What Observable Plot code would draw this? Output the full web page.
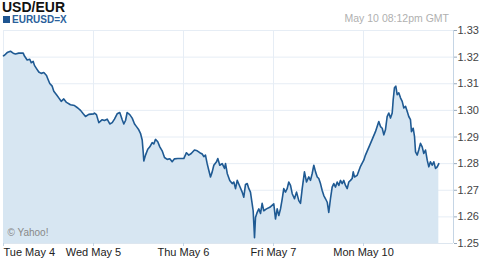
<!DOCTYPE html>
<html><head><meta charset="utf-8">
<script src="https://cdn.jsdelivr.net/npm/d3@7"></script>
<script src="https://cdn.jsdelivr.net/npm/@observablehq/plot@0.6"></script>
<style>
body{margin:0;background:#fff;font-family:Arial,"Liberation Sans",sans-serif;}
#wrap{width:479px;height:270px;position:relative;overflow:hidden}
#head{position:relative;height:24px}
.title{position:absolute;left:2px;top:0px;font-weight:bold;font-size:14px;line-height:14px;color:#111}
.legend{position:absolute;left:3px;top:15px;font-weight:bold;font-size:10px;color:#2a5f9b;line-height:9px}
.sw{display:inline-block;width:7px;height:7px;background:#1f5591;margin-right:2px}
.stamp{position:absolute;right:30px;top:13px;font-size:10.5px;line-height:10px;color:#b0b0b0}
</style></head><body>
<div id="wrap">
<div id="head">
<div class="title">USD/EUR</div>
<div class="legend"><span class="sw"></span>EURUSD=X</div>
<div class="stamp">May 10 08:12pm GMT</div>
</div>
<div id="chart"></div>
</div>
<script>
// trading-day offset from Tue May 4 (weekend collapsed)
const t = [0,0.011,0.041,0.078,0.108,0.133,0.170,0.219,0.233,0.263,0.292,0.308,0.330,0.344,0.367,0.392,0.419,0.448,0.478,0.492,0.514,0.541,0.559,0.589,0.614,0.641,0.670,0.700,0.744,0.789,0.826,0.856,0.886,0.911,0.948,
1.003,1.011,1.033,1.059,1.097,1.122,1.152,1.181,1.208,1.233,1.263,1.292,1.319,1.337,1.356,1.374,1.403,1.430,1.456,1.478,1.503,1.522,1.541,1.552,1.559,1.578,1.603,1.626,1.652,1.670,1.689,1.714,1.737,1.763,1.789,1.819,1.848,1.874,1.900,1.937,
2.003,2.033,2.059,2.086,2.122,2.152,2.181,2.208,2.226,2.244,2.263,2.281,2.300,2.319,2.337,2.367,2.381,2.403,2.430,2.456,2.467,2.486,2.514,2.541,2.559,2.578,2.597,2.626,2.652,2.670,2.689,2.708,2.726,2.744,2.763,2.774,2.789,2.800,2.819,2.837,2.856,2.874,2.892,2.922,2.959,
3.003,3.022,3.041,3.059,3.078,3.097,3.114,3.133,3.152,3.170,3.189,3.208,3.233,3.256,3.281,3.300,3.319,3.344,3.367,3.392,3.411,3.430,3.448,3.467,3.486,3.503,3.522,3.541,3.559,3.578,3.597,3.614,3.633,3.652,3.670,3.689,3.708,3.726,3.744,3.763,3.781,3.800,3.819,3.837,3.856,3.874,3.886,3.900,3.930,3.967,
4.003,4.022,4.078,4.133,4.170,4.189,4.208,4.226,4.244,4.263,4.281,4.300,4.319,4.330,4.344,4.359,4.374,4.392,4.411,4.430,4.448,4.467,4.486,4.503,4.522,4.533,4.552,4.567,4.578,4.597,4.614,4.633,4.652,4.670,4.689,4.708,4.726,4.744,4.763,4.781,4.800,4.819,4.837];
const rate = [1.3205,1.3207,1.3217,1.3222,1.3215,1.3212,1.3215,1.3215,1.3204,1.3189,1.3192,1.3179,1.3184,1.3169,1.3157,1.3144,1.3139,1.3142,1.3131,1.3119,1.3101,1.3091,1.3072,1.3059,1.3047,1.3034,1.3043,1.3030,1.3021,1.3018,1.3009,1.3000,1.2987,1.2977,1.2985,
1.2987,1.2990,1.2984,1.2954,1.2965,1.2962,1.2967,1.2949,1.2954,1.2967,1.2987,1.2992,1.2965,1.2949,1.2962,1.2992,1.2984,1.2971,1.2949,1.2939,1.2927,1.2914,1.2889,1.2844,1.2810,1.2832,1.2854,1.2863,1.2879,1.2874,1.2891,1.2882,1.2863,1.2848,1.2823,1.2816,1.2818,1.2807,1.2818,1.2819,
1.2819,1.2841,1.2832,1.2838,1.2851,1.2848,1.2841,1.2836,1.2826,1.2832,1.2800,1.2775,1.2750,1.2769,1.2794,1.2807,1.2819,1.2794,1.2800,1.2782,1.2800,1.2763,1.2737,1.2725,1.2731,1.2706,1.2737,1.2714,1.2693,1.2674,1.2722,1.2725,1.2706,1.2693,1.2649,1.2623,1.2522,1.2598,1.2617,1.2630,1.2613,1.2651,1.2623,1.2630,1.2636,
1.2649,1.2592,1.2630,1.2605,1.2630,1.2668,1.2706,1.2693,1.2706,1.2731,1.2718,1.2687,1.2668,1.2693,1.2661,1.2651,1.2706,1.2769,1.2731,1.2750,1.2737,1.2763,1.2794,1.2769,1.2750,1.2744,1.2725,1.2699,1.2680,1.2668,1.2655,1.2617,1.2668,1.2712,1.2725,1.2712,1.2731,1.2718,1.2737,1.2725,1.2737,1.2718,1.2706,1.2731,1.2737,1.2744,1.2769,1.2750,1.2756,1.2790,
1.2813,1.2832,1.2876,1.2920,1.2958,1.2939,1.2933,1.2908,1.2927,1.2977,1.2990,1.2971,1.2990,1.3040,1.3085,1.3091,1.3059,1.3066,1.3047,1.3034,1.3009,1.3015,1.2996,1.2977,1.2965,1.2920,1.2933,1.2901,1.2844,1.2832,1.2851,1.2876,1.2863,1.2838,1.2851,1.2813,1.2788,1.2807,1.2794,1.2807,1.2782,1.2788,1.2800];
const dayTicks = [0,1,2,3,4];
const dayLabels = ["Tue May 4","Wed May 5","Thu May 6","Fri May 7","Mon May 10"];
const yTicks = [1.25,1.26,1.27,1.28,1.29,1.30,1.31,1.32,1.33];

const data = t.map((d,i)=>({t:d, rate:rate[i], base:1.25}));
const labels = dayTicks.map((d,i)=>({t:d, label:dayLabels[i]}));
const grid = "#e6edf5";

const chart = Plot.plot({
  width: 479, height: 246,
  marginTop: 6, marginBottom: 27, marginLeft: 3, marginRight: 26,
  style: {fontFamily: "Arial, 'Liberation Sans', sans-serif", fontSize: "11px", color: "#333", background: "#fff"},
  x: {type: "linear", domain: [0,5], axis: null},
  y: {type: "linear", domain: [1.25,1.33]},
  marks: [
    Plot.ruleY(yTicks, {stroke: grid}),
    Plot.ruleX(dayTicks, {stroke: grid}),
    Plot.areaY(data, {x: "t", y1: "base", y2: "rate", fill: "#d7e6f2"}),
    Plot.lineY(data, {x: "t", y: "rate", stroke: "#1f5a93", strokeWidth: 1.6}),
    Plot.ruleX([5], {stroke: "#c5d5e5"}),
    Plot.ruleY([1.25], {stroke: "#dde6ef"}),
    Plot.axisY({anchor: "right", ticks: yTicks, tickFormat: d3.format(".2f"), tickSize: 3, tickPadding: 1, stroke: "#9aaabb", fill: "#444", label: null, fontSize: 11}),
    Plot.axisX({anchor: "bottom", ticks: dayTicks, tickFormat: () => "", tickSize: 3, stroke: "#c5d5e5", label: null}),
    Plot.text(labels.slice(0,1), {x: "t", text: "label", frameAnchor: "bottom", dy: 12, textAnchor: "start", fill: "#222", fontSize: 11}),
    Plot.text(labels.slice(1), {x: "t", text: "label", frameAnchor: "bottom", dy: 12, textAnchor: "middle", fill: "#222", fontSize: 11}),
    Plot.text(["© Yahoo!"], {frameAnchor: "bottom-left", dx: 4, dy: -8, fill: "#888", fontSize: 10, textAnchor: "start"})
  ]
});
document.getElementById("chart").appendChild(chart);
</script>
</body></html>
